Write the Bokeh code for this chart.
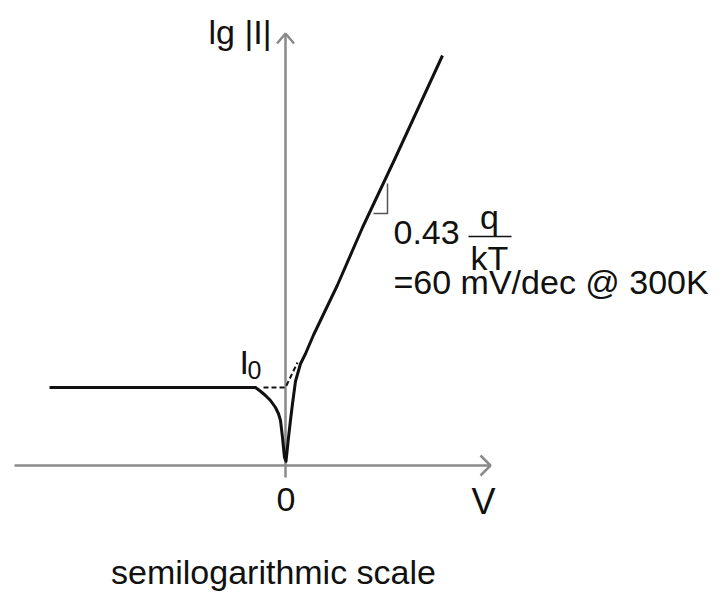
from bokeh.plotting import figure
from bokeh.models import Range1d
from bokeh.core.properties import value
from bokeh.embed import file_html
from bokeh.resources import INLINE

# ---- data ----
# V in mV, L = lg(|I|/I0) in decades
curve_v = [-236, -30, -25, -20, -15, -10, -7, -5, -3, -2, -1, 0.5,
           3, 5, 7, 10, 15, 20, 28, 40, 52, 77, 110, 157]
curve_l = [0.0, 0.0, -0.03, -0.064, -0.104, -0.16, -0.21, -0.264, -0.40, -0.48, -0.56, -0.59,
           -0.40, -0.26, -0.13, 0.05, 0.19, 0.27, 0.42, 0.62, 0.82, 1.28, 1.84, 2.656]
# dashed extrapolation to I0 at V = 0
asym_v = [-22, 0, 12]
asym_l = [0.0, 0.0, 0.2]
# slope marker (right angle)
mark_v = [88, 102, 102]
mark_l = [1.392, 1.392, 1.632]
# axes
haxis_v = [-271, 205]
haxis_l = [-0.624, -0.624]
vaxis_v = [0, 0]
vaxis_l = [-0.72, 2.832]

PX_X = 1.0     # px per mV
PX_Y = 125.0   # px per decade

FONT = value("Liberation Sans")
INK = "#111111"
AX = "#8a8a8a"

p = figure(width=728, height=592, output_backend="svg", toolbar_location=None,
           x_axis_location=None, y_axis_location=None,
           x_range=Range1d(-285, 443), y_range=Range1d(-1.64, 3.096),
           min_border=0, outline_line_color=None,
           background_fill_color="white", border_fill_color="white")
p.grid.visible = False

# axes lines
p.line(haxis_v, haxis_l, line_color=AX, line_width=2.5)
p.line(vaxis_v, vaxis_l, line_color=AX, line_width=2.5)
# arrow heads derived from the axis ends
hx, hy = haxis_v[1], haxis_l[1]
p.line([hx - 10 / PX_X, hx, hx - 10 / PX_X], [hy + 10 / PX_Y, hy, hy - 10 / PX_Y],
       line_color=AX, line_width=2.5)
vx, vy = vaxis_v[1], vaxis_l[1]
p.line([vx - 8.5 / PX_X, vx, vx + 8.5 / PX_X], [vy - 10 / PX_Y, vy, vy - 10 / PX_Y],
       line_color=AX, line_width=2.5)

# curve
p.line(curve_v, curve_l, line_color=INK, line_width=3, line_join="round")
# dashed asymptote
p.line(asym_v, asym_l, line_color=INK, line_width=2, line_dash="5 3")
# slope marker
p.line(mark_v, mark_l, line_color="#555555", line_width=1.5)
# fraction bar
p.line([183, 226], [1.208, 1.208], line_color=INK, line_width=1.5)

def txt(x, y, s, size=34, align="left"):
    dy = 0.31 * size / PX_Y   # compensate baseline placement
    p.text(x=[x], y=[y + dy], text=[s], text_font=FONT, text_font_size=value(f"{size}px"),
           text_color=INK, text_align=align, text_baseline="alphabetic")

txt(-77, 2.76, "lg |I|")
txt(108, 1.152, "0.43")
txt(204, 1.28, "q", align="center")
txt(204, 0.952, "kT", align="center")
txt(108, 0.76, "=60 mV/dec @ 300K")
txt(-46, 0.12, "I")
txt(-38, 0.08, "0", size=25)
txt(0.5, -0.984, "0", align="center")
txt(198, -1.0, "V", size=36, align="center")
txt(-12, -1.56, "semilogarithmic scale", align="center")

open("out.html", "w").write(file_html(p, INLINE))
